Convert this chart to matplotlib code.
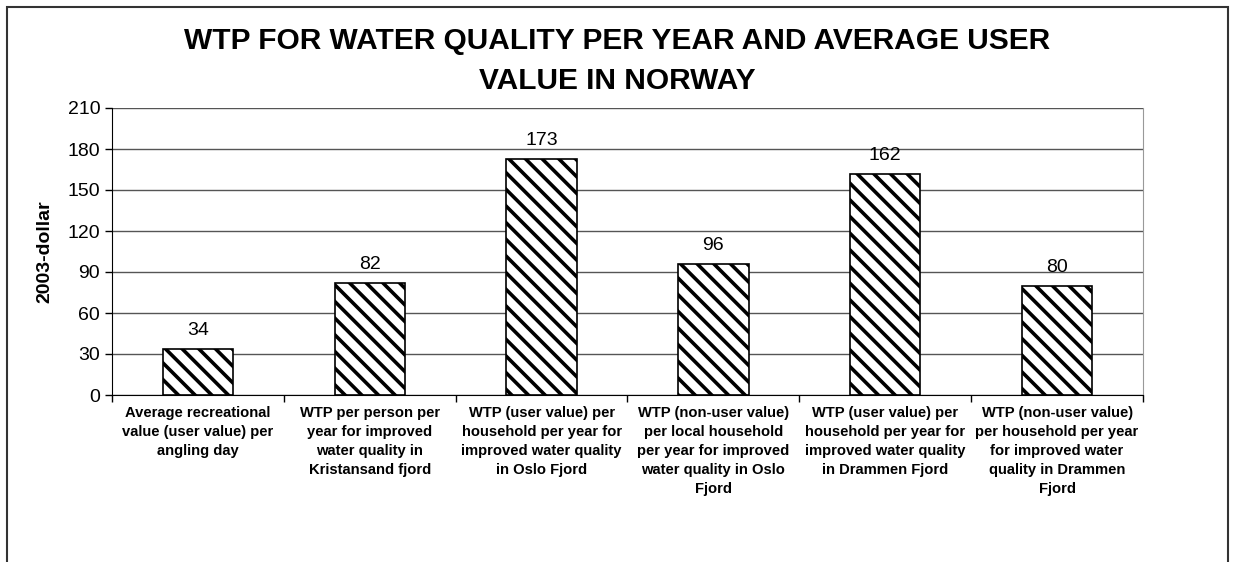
import numpy as np
import matplotlib.pyplot as plt
from matplotlib.patches import Rectangle

# data
categories = [
    'Average recreational\nvalue (user value) per\nangling day',
    'WTP per person per\nyear for improved\nwater quality in\nKristansand fjord',
    'WTP (user value) per\nhousehold per year for\nimproved water quality\nin Oslo Fjord',
    'WTP (non-user value)\nper local household\nper year for improved\nwater quality in Oslo\nFjord',
    'WTP (user value) per\nhousehold per year for\nimproved water quality\nin Drammen Fjord',
    'WTP (non-user value)\nper household per year\nfor improved water\nquality in Drammen\nFjord',
]
values = [34, 82, 173, 96, 162, 80]
yticks = [0, 30, 60, 90, 120, 150, 180, 210]

plt.rcParams['font.family'] = ['Liberation Sans', 'DejaVu Sans']
plt.rcParams['hatch.linewidth'] = 2.6

fig = plt.figure(figsize=(12.34, 5.62), dpi=100)
ax = fig.add_axes([112/1234, 1 - 395/562, (1143-112)/1234, (395-108)/562])

x = np.arange(len(values))
bars = ax.bar(x, values, width=0.41, color='white', edgecolor='black',
              hatch='\\\\', linewidth=1.2, zorder=3)

for xi, v in zip(x, values):
    ax.annotate(str(v), (xi, v), xytext=(0, 7), textcoords='offset points',
                ha='center', va='bottom', fontsize=14)

ax.set_xlim(-0.5, len(values) - 0.5)
ax.set_ylim(0, 210)
ax.set_yticks(yticks)
ax.tick_params(axis='y', labelsize=14, length=5, direction='out', width=1)
ax.yaxis.grid(True, color='#555555', linewidth=1, zorder=0)

# categories between ticks
ax.set_xticks(np.arange(len(values) + 1) - 0.5)
ax.set_xticklabels([])
ax.tick_params(axis='x', length=5, direction='out', width=1)
ax.set_xticks(x, minor=True)
ax.set_xticklabels(categories, minor=True, fontsize=10.6, fontweight='bold',
                   linespacing=1.45, va='top')
ax.tick_params(axis='x', which='minor', length=0, pad=8)

ax.spines['top'].set_visible(False)
ax.spines['right'].set_color('#999999')
ax.spines['left'].set_color('black')
ax.spines['bottom'].set_color('black')

ax.set_ylabel('2003-dollar', fontsize=14, fontweight='bold', labelpad=10)

fig.text(0.5, 1 - 41/562, 'WTP FOR WATER QUALITY PER YEAR AND AVERAGE USER',
         ha='center', va='center', fontsize=21.5, fontweight='bold')
fig.text(0.5, 1 - 81/562, 'VALUE IN NORWAY',
         ha='center', va='center', fontsize=21.5, fontweight='bold')

# outer chart frame (open at bottom)
fig.patches.append(Rectangle((7/1234, -0.2), (1228-7)/1234, 1 - 7/562 + 0.2,
                             transform=fig.transFigure, fill=False,
                             edgecolor='#333333', linewidth=1.5))

fig.savefig('out.png', dpi=100)
